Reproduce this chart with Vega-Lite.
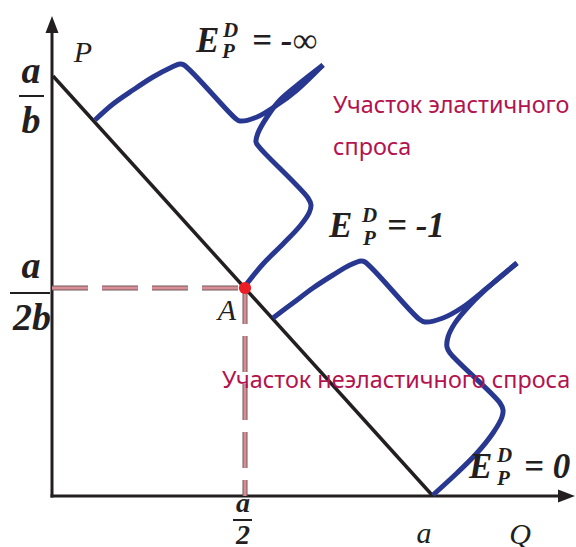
{
  "$schema": "https://vega.github.io/schema/vega-lite/v6.json",
  "width": 576,
  "height": 547,
  "autosize": "none",
  "padding": 0,
  "background": "white",
  "config": {"view": {"stroke": null}},
  "datasets": {
    "axes": [
      {"s": "y", "i": 0, "q": 0, "p": 0},
      {"s": "y", "i": 1, "q": 0, "p": 466},
      {"s": "x", "i": 0, "q": 0, "p": 0},
      {"s": "x", "i": 1, "q": 508, "p": 0}
    ],
    "arrows": [
      {"dir": "up", "q": 0, "p": 471.5},
      {"dir": "right", "q": 514.5, "p": 0}
    ],
    "demand": [
      {"i": 0, "q": 1, "p": 420},
      {"i": 1, "q": 380, "p": 1}
    ],
    "guides": [
      {"s": "h", "i": 0, "q": 0, "p": 208},
      {"s": "h", "i": 1, "q": 193, "p": 208},
      {"s": "v", "i": 0, "q": 193, "p": 208},
      {"s": "v", "i": 1, "q": 193, "p": 0}
    ],
    "pointA": [{"q": 193, "p": 208}],
    "brackets": [
      {"s": "b1a", "i": 1, "q": 43, "p": 376},
      {"s": "b1a", "i": 2, "q": 61, "p": 392},
      {"s": "b1a", "i": 3, "q": 81, "p": 406},
      {"s": "b1a", "i": 4, "q": 101, "p": 419},
      {"s": "b1a", "i": 5, "q": 118, "p": 428},
      {"s": "b1a", "i": 6, "q": 128, "p": 432},
      {"s": "b1a", "i": 7, "q": 132, "p": 431},
      {"s": "b1a", "i": 8, "q": 183, "p": 378},
      {"s": "b1a", "i": 9, "q": 188, "p": 375},
      {"s": "b1a", "i": 10, "q": 205, "p": 379},
      {"s": "b1a", "i": 11, "q": 225, "p": 391},
      {"s": "b1a", "i": 12, "q": 245, "p": 406},
      {"s": "b1a", "i": 13, "q": 271, "p": 431},
      {"s": "b1b", "i": 1, "q": 271, "p": 431},
      {"s": "b1b", "i": 2, "q": 248, "p": 413},
      {"s": "b1b", "i": 3, "q": 228, "p": 396},
      {"s": "b1b", "i": 4, "q": 215, "p": 379},
      {"s": "b1b", "i": 5, "q": 206, "p": 363},
      {"s": "b1b", "i": 6, "q": 204, "p": 354},
      {"s": "b1b", "i": 7, "q": 208, "p": 348},
      {"s": "b1b", "i": 8, "q": 256, "p": 298},
      {"s": "b1b", "i": 9, "q": 259, "p": 291},
      {"s": "b1b", "i": 10, "q": 257, "p": 283},
      {"s": "b1b", "i": 11, "q": 248, "p": 270},
      {"s": "b1b", "i": 12, "q": 231, "p": 252},
      {"s": "b1b", "i": 13, "q": 211, "p": 232},
      {"s": "b1b", "i": 14, "q": 193, "p": 210},
      {"s": "b2a", "i": 1, "q": 221, "p": 178},
      {"s": "b2a", "i": 2, "q": 241, "p": 193},
      {"s": "b2a", "i": 3, "q": 261, "p": 208},
      {"s": "b2a", "i": 4, "q": 281, "p": 221},
      {"s": "b2a", "i": 5, "q": 298, "p": 231},
      {"s": "b2a", "i": 6, "q": 309, "p": 235},
      {"s": "b2a", "i": 7, "q": 313, "p": 234},
      {"s": "b2a", "i": 8, "q": 367, "p": 177},
      {"s": "b2a", "i": 9, "q": 373, "p": 174},
      {"s": "b2a", "i": 10, "q": 391, "p": 178},
      {"s": "b2a", "i": 11, "q": 411, "p": 189},
      {"s": "b2a", "i": 12, "q": 435, "p": 208},
      {"s": "b2a", "i": 13, "q": 465, "p": 233},
      {"s": "b2b", "i": 1, "q": 465, "p": 233},
      {"s": "b2b", "i": 2, "q": 441, "p": 213},
      {"s": "b2b", "i": 3, "q": 418, "p": 191},
      {"s": "b2b", "i": 4, "q": 403, "p": 173},
      {"s": "b2b", "i": 5, "q": 396, "p": 159},
      {"s": "b2b", "i": 6, "q": 395, "p": 149},
      {"s": "b2b", "i": 7, "q": 398, "p": 143},
      {"s": "b2b", "i": 8, "q": 448, "p": 93},
      {"s": "b2b", "i": 9, "q": 451, "p": 86},
      {"s": "b2b", "i": 10, "q": 450, "p": 79},
      {"s": "b2b", "i": 11, "q": 441, "p": 63},
      {"s": "b2b", "i": 12, "q": 425, "p": 43},
      {"s": "b2b", "i": 13, "q": 405, "p": 23},
      {"s": "b2b", "i": 14, "q": 381, "p": 1}
    ],
    "bars": [
      {"q": -33, "q2": -8, "p": 400},
      {"q": -42, "q2": -2, "p": 203},
      {"q": 181, "q2": 200, "p": -24}
    ],
    "bigE": [
      {"t": "E", "q": 144, "p": 444},
      {"t": "E", "q": 277, "p": 259},
      {"t": "E", "q": 417, "p": 18}
    ],
    "subsup": [
      {"t": "D", "q": 171, "p": 459},
      {"t": "P", "q": 170, "p": 438},
      {"t": "D", "q": 310, "p": 274},
      {"t": "P", "q": 311, "p": 251},
      {"t": "D", "q": 445, "p": 34},
      {"t": "P", "q": 445, "p": 11}
    ],
    "eqs": [
      {"t": "= -∞", "q": 200, "p": 444},
      {"t": "= -1", "q": 335, "p": 259},
      {"t": "= 0", "q": 472, "p": 18}
    ],
    "fracBig": [
      {"t": "a", "q": -21, "p": 413},
      {"t": "b", "q": -21, "p": 363},
      {"t": "a", "q": -21, "p": 218},
      {"t": "2b", "q": -20, "p": 166}
    ],
    "fracSmall": [
      {"t": "a", "q": 191, "p": -16},
      {"t": "2", "q": 191, "p": -48}
    ],
    "italics": [
      {"t": "P", "q": 31, "p": 434},
      {"t": "A", "q": 175, "p": 176},
      {"t": "a", "q": 372, "p": -47},
      {"t": "Q", "q": 468, "p": -48}
    ],
    "notes": [
      {"t": "Участок эластичного", "q": 281, "p": 383},
      {"t": "спроса", "q": 281, "p": 341},
      {"t": "Участок неэластичного спроса", "q": 170, "p": 108}
    ]
  },
  "encoding": {
    "x": {"field": "q", "type": "quantitative", "scale": {"domain": [-52, 524], "nice": false, "zero": false}, "axis": null},
    "y": {"field": "p", "type": "quantitative", "scale": {"domain": [-51, 496], "nice": false, "zero": false}, "axis": null}
  },
  "layer": [
    {
      "data": {"name": "axes"},
      "mark": {"type": "line", "color": "#231f20", "strokeWidth": 3, "strokeCap": "square"},
      "encoding": {"detail": {"field": "s"}, "order": {"field": "i"}}
    },
    {
      "data": {"name": "arrows"},
      "transform": [{"filter": "datum.dir == 'up'"}],
      "mark": {"type": "point", "shape": "M0,-0.85L0.65,0.85L-0.65,0.85Z", "size": 400, "filled": true, "color": "#231f20", "opacity": 1, "strokeWidth": 0}
    },
    {
      "data": {"name": "arrows"},
      "transform": [{"filter": "datum.dir == 'right'"}],
      "mark": {"type": "point", "shape": "M0.85,0L-0.85,0.65L-0.85,-0.65Z", "size": 400, "filled": true, "color": "#231f20", "opacity": 1, "strokeWidth": 0}
    },
    {
      "data": {"name": "guides"},
      "transform": [{"filter": "datum.s == 'h'"}],
      "mark": {"type": "line", "color": "#6e5a5c", "strokeWidth": 5, "strokeDash": [36, 14], "strokeCap": "butt"},
      "encoding": {"order": {"field": "i"}}
    },
    {
      "data": {"name": "guides"},
      "transform": [{"filter": "datum.s == 'h'"}],
      "mark": {"type": "line", "color": "#d98d94", "strokeWidth": 3, "strokeDash": [36, 14], "strokeCap": "butt"},
      "encoding": {"order": {"field": "i"}}
    },
    {
      "data": {"name": "guides"},
      "transform": [{"filter": "datum.s == 'v'"}],
      "mark": {"type": "line", "color": "#6e5a5c", "strokeWidth": 5, "strokeDash": [36, 12], "strokeCap": "butt"},
      "encoding": {"order": {"field": "i"}}
    },
    {
      "data": {"name": "guides"},
      "transform": [{"filter": "datum.s == 'v'"}],
      "mark": {"type": "line", "color": "#d98d94", "strokeWidth": 3, "strokeDash": [36, 12], "strokeCap": "butt"},
      "encoding": {"order": {"field": "i"}}
    },
    {
      "data": {"name": "demand"},
      "mark": {"type": "line", "color": "#231f20", "strokeWidth": 3.5},
      "encoding": {"order": {"field": "i"}}
    },
    {
      "data": {"name": "brackets"},
      "mark": {"type": "line", "color": "#283891", "strokeWidth": 5, "strokeJoin": "round", "strokeCap": "butt", "interpolate": "catmull-rom"},
      "encoding": {"detail": {"field": "s"}, "order": {"field": "i"}}
    },
    {
      "data": {"name": "pointA"},
      "mark": {"type": "point", "shape": "circle", "size": 150, "filled": true, "color": "#ec1c24", "opacity": 1}
    },
    {
      "data": {"name": "bars"},
      "mark": {"type": "rule", "color": "#231f20", "strokeWidth": 2},
      "encoding": {"x2": {"field": "q2"}}
    },
    {
      "data": {"name": "bigE"},
      "mark": {"type": "text", "font": "Liberation Serif", "fontSize": 35, "fontStyle": "italic", "fontWeight": "bold", "align": "left", "baseline": "alphabetic", "color": "#231f20"},
      "encoding": {"text": {"field": "t"}}
    },
    {
      "data": {"name": "subsup"},
      "mark": {"type": "text", "font": "Liberation Serif", "fontSize": 21, "fontStyle": "italic", "fontWeight": "bold", "align": "left", "baseline": "alphabetic", "color": "#231f20"},
      "encoding": {"text": {"field": "t"}}
    },
    {
      "data": {"name": "eqs"},
      "mark": {"type": "text", "font": "Liberation Serif", "fontSize": 35, "fontStyle": "italic", "fontWeight": "bold", "align": "left", "baseline": "alphabetic", "color": "#231f20"},
      "encoding": {"text": {"field": "t"}}
    },
    {
      "data": {"name": "fracBig"},
      "mark": {"type": "text", "font": "Liberation Serif", "fontSize": 38, "fontStyle": "italic", "fontWeight": "bold", "align": "center", "baseline": "alphabetic", "color": "#231f20"},
      "encoding": {"text": {"field": "t"}}
    },
    {
      "data": {"name": "fracSmall"},
      "mark": {"type": "text", "font": "Liberation Serif", "fontSize": 28, "fontStyle": "italic", "fontWeight": "bold", "align": "center", "baseline": "alphabetic", "color": "#231f20"},
      "encoding": {"text": {"field": "t"}}
    },
    {
      "data": {"name": "italics"},
      "mark": {"type": "text", "font": "Liberation Serif", "fontSize": 30, "fontStyle": "italic", "align": "center", "baseline": "alphabetic", "color": "#231f20"},
      "encoding": {"text": {"field": "t"}}
    },
    {
      "data": {"name": "notes"},
      "mark": {"type": "text", "font": "Noto Sans", "fontSize": 23.4, "align": "left", "baseline": "alphabetic", "color": "#b3134e"},
      "encoding": {"text": {"field": "t"}}
    }
  ]
}
